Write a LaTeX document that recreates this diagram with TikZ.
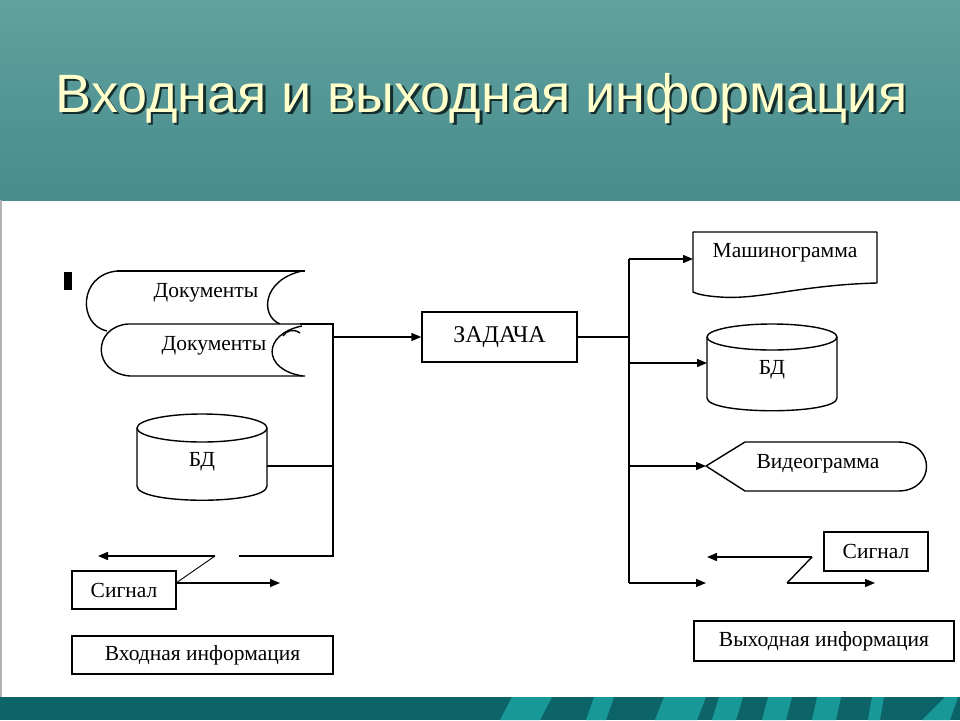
\documentclass[tikz,border=0pt]{standalone}
\usepackage{fontspec}
\setmainfont{Liberation Serif}
\newfontfamily\titlefont{Liberation Sans}
\usetikzlibrary{arrows.meta}
\definecolor{hdrtop}{RGB}{97,161,159}
\definecolor{hdrbot}{RGB}{72,140,141}
\definecolor{band}{RGB}{12,100,104}
\definecolor{stripe}{RGB}{24,152,150}
\definecolor{titlecol}{RGB}{255,255,204}
\definecolor{shadowcol}{RGB}{20,45,45}
\begin{document}
\begin{tikzpicture}[x=1pt,y=-1pt,
  shp/.style={draw=black, line width=1.4pt, line join=round},
  conn/.style={draw=black, line width=1.4pt},
  arr/.style={conn, -{Triangle[length=10pt,width=8pt]}},
  lbl/.style={font=\fontsize{21.5}{21.5}\selectfont, inner sep=0pt},
  boxn/.style={draw=black, line width=1.4pt, font=\fontsize{21.5}{21.5}\selectfont, inner sep=0pt}]
\useasboundingbox (0,0) rectangle (960,720);
% backgrounds
\fill[white] (0,0) rectangle (960,720);
\shade[top color=hdrtop, bottom color=hdrbot] (0,0) rectangle (960,200);
\fill[band] (0,697) rectangle (960,720);
\fill[stripe] (500,720) -- (512,697) -- (552,697) -- (540,720) -- cycle;
\fill[stripe] (586,720) -- (594,697) -- (614,697) -- (606,720) -- cycle;
\fill[stripe] (655,720) -- (664,697) -- (706,697) -- (697,720) -- cycle;
\fill[stripe] (712,720) -- (719,697) -- (743,697) -- (736,720) -- cycle;
\fill[stripe] (762,720) -- (768,697) -- (792,697) -- (786,720) -- cycle;
\fill[stripe] (812,720) -- (817,697) -- (841,697) -- (836,720) -- cycle;
\fill[stripe] (868,720) -- (872,697) -- (884,697) -- (880,720) -- cycle;
\fill[stripe] (922,720) -- (945,697) -- (958,697) -- (950,720) -- cycle;
\draw[gray!60, line width=1.5pt] (1,200) -- (1,697);
% title (with drop shadow)
\node[anchor=base, text=shadowcol, font=\titlefont\fontsize{54}{54}\selectfont, inner sep=0pt] at (484,114.5) {Входная и выходная информация};
\node[anchor=base, text=titlecol, font=\titlefont\fontsize{54}{54}\selectfont, inner sep=0pt] (title) at (481.5,112) {Входная и выходная информация};

% small black mark
\fill[black] (64,272) rectangle (72,290);

% ---- input documents
\draw[shp] (117,271) -- (305,271);
\draw[shp] (117,271) .. controls (78,275) and (78,325) .. (107,331);
\draw[shp] (302,271) .. controls (262,280) and (260,316) .. (280,324);
\draw[shp, fill=white] (305,376) -- (130,376) .. controls (92,373) and (92,327) .. (128,324) -- (300,324);
\draw[shp] (302,326) .. controls (262,334) and (262,370) .. (303,376);
\draw[shp] (300,333) .. controls (293,328) and (286,331) .. (283,336);
\node[lbl] (doc1) at (206,293) {Документы};
\node[lbl] (doc2) at (214,346) {Документы};
\coordinate (doc2e) at (300,324);

% ---- input database
\draw[shp] (137,428) -- (137,486) .. controls (137,505) and (267,505) .. (267,486) -- (267,428);
\draw[shp] (202,428) ellipse [x radius=65, y radius=14];
\node[lbl] (bdL) at (202,462) {БД};
\coordinate (bdLe) at (267,466);

% ---- input signal
\node[boxn, minimum width=104pt, minimum height=38pt] (sigL) at (124,590) {Сигнал};
\coordinate (zLt) at (215,556);
\coordinate (zLb) at (176,583);
\coordinate (arrLl) at (98,556);
\coordinate (arrLr) at (280,583);
\draw[arr] (zLt) -- (arrLl);
\draw[conn, line width=0.9pt] (zLt) -- (zLb);
\draw[arr] (zLb) -- (arrLr);

% ---- input label
\node[boxn, minimum width=261pt, minimum height=38pt] (inL) at (202.5,655) {Входная информация};

% ---- task
\node[boxn, minimum width=155pt, minimum height=50pt, font=\fontsize{24}{24}\selectfont] (task) at (499.5,337) {ЗАДАЧА};

% left collector
\coordinate (jLt) at (333,324);
\coordinate (jLb) at (333,556);
\coordinate (jLe) at (239,556);
\draw[conn] (doc2e) -- (jLt) -- (jLb) -- (jLe);
\draw[conn] (bdLe) -- (bdLe -| jLt);
\draw[arr] (jLt |- task.west) -- (task.west);

% right distributor
\coordinate (jRt) at (629,259);
\coordinate (jRb) at (629,583);
\draw[conn] (task.east) -- (task.east -| jRt);
\draw[conn] (jRt) -- (jRb);

% ---- machinogram
\draw[shp] (693,232) -- (877,232) -- (877,283) .. controls (800,285) and (760,300) .. (720,297) .. controls (705,296) and (697,294) .. (693,292) -- cycle;
\node[lbl] (mash) at (785,253) {Машинограмма};
\coordinate (mashW) at (693,259);
\draw[arr] (jRt) -- (mashW);

% ---- output database
\draw[shp] (707,337) -- (707,398) .. controls (707,415) and (837,415) .. (837,398) -- (837,337);
\draw[shp] (772,337) ellipse [x radius=65, y radius=13];
\node[lbl] (bdR) at (772,370) {БД};
\coordinate (bdRW) at (707,363);
\draw[arr] (bdRW -| jRt) -- (bdRW);

% ---- videogram
\draw[shp] (706,466) -- (745,442) -- (898,442) .. controls (936,442) and (936,491) .. (898,491) -- (745,491) -- cycle;
\node[lbl] (video) at (818,464) {Видеограмма};
\coordinate (videoW) at (706,466);
\draw[arr] (videoW -| jRt) -- (videoW);

% ---- output signal
\node[boxn, minimum width=104pt, minimum height=39pt] (sigR) at (876,551.5) {Сигнал};
\coordinate (zRt) at (812,557);
\coordinate (zRb) at (787,583);
\coordinate (arrRl) at (707,557);
\coordinate (arrRr) at (875,583);
\coordinate (arrRin) at (706,583);
\draw[arr] (zRt) -- (arrRl);
\draw[conn] (zRt) -- (zRb);
\draw[arr] (zRb) -- (arrRr);
\draw[arr] (jRb) -- (arrRin);

% ---- output label
\node[boxn, minimum width=260pt, minimum height=40pt] (outL) at (824,641) {Выходная информация};
\end{tikzpicture}
\end{document}
